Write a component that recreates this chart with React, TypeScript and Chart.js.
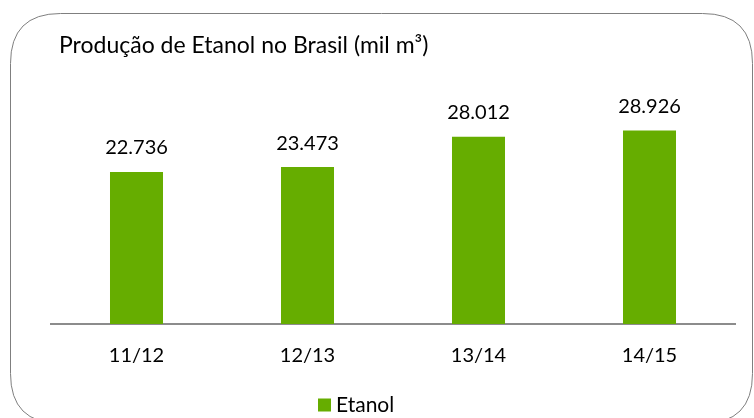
import React, { useEffect, useRef } from "react";
import { Chart, registerables } from "chart.js";

Chart.register(...registerables);

const categories = ["11/12", "12/13", "13/14", "14/15"];
const etanol = [22736, 23473, 28012, 28926];
const valueLabels = ["22.736", "23.473", "28.012", "28.926"];
const seriesName = "Etanol";
const title = "Produção de Etanol no Brasil (mil m³)";

const GREEN = "#66ad00";
const FONT = "Lato, 'Open Sans', sans-serif";

const decorPlugin = {
  id: "decor",
  beforeDraw(chart: any) {
    const ctx = chart.ctx;
    ctx.save();
    ctx.fillStyle = "#ffffff";
    ctx.fillRect(0, 0, chart.width, chart.height);
    // rounded frame
    const x = 10.5, y = 13.5, w = 742, h = 410, r = 50;
    ctx.beginPath();
    ctx.moveTo(x + r, y);
    ctx.lineTo(x + w - r, y);
    ctx.quadraticCurveTo(x + w, y, x + w, y + r);
    ctx.lineTo(x + w, y + h - r);
    ctx.quadraticCurveTo(x + w, y + h, x + w - r, y + h);
    ctx.lineTo(x + r, y + h);
    ctx.quadraticCurveTo(x, y + h, x, y + h - r);
    ctx.lineTo(x, y + r);
    ctx.quadraticCurveTo(x, y, x + r, y);
    ctx.closePath();
    ctx.strokeStyle = "#7f7f7f";
    ctx.lineWidth = 1;
    ctx.stroke();
    // title
    ctx.fillStyle = "#000000";
    ctx.font = `23px ${FONT}`;
    ctx.textAlign = "left";
    ctx.textBaseline = "middle";
    ctx.fillText(title, 59, 46);
    ctx.restore();
  },
  afterDatasetsDraw(chart: any) {
    const ctx = chart.ctx;
    ctx.save();
    const meta = chart.getDatasetMeta(0);
    ctx.fillStyle = "#000000";
    ctx.font = `20px ${FONT}`;
    ctx.textAlign = "center";
    ctx.textBaseline = "middle";
    meta.data.forEach((bar: any, i: number) => {
      ctx.fillText(valueLabels[i], bar.x, bar.y - 24);
    });
    // legend
    const legendY = 405;
    ctx.fillStyle = GREEN;
    ctx.fillRect(318, legendY - 6.5, 13, 13);
    ctx.fillStyle = "#000000";
    ctx.font = `21px ${FONT}`;
    ctx.textAlign = "left";
    ctx.fillText(seriesName, 336, legendY);
    ctx.restore();
  },
};

export default function App() {
  const ref = useRef<HTMLCanvasElement | null>(null);
  useEffect(() => {
    if (!ref.current) return;
    const chart = new Chart(ref.current, {
      type: "bar",
      data: {
        labels: categories,
        datasets: [
          {
            label: seriesName,
            data: etanol,
            backgroundColor: GREEN,
            categoryPercentage: 1,
            barPercentage: 0.31,
          },
        ],
      },
      options: {
        animation: false,
        responsive: false,
        layout: { padding: { left: 51, right: 19, top: 90, bottom: 0 } },
        plugins: {
          legend: { display: false },
          title: { display: false },
          tooltip: { enabled: false },
        },
        scales: {
          x: {
            grid: { display: false, drawTicks: false },
            border: { display: true, color: "#8c8c8c", width: 2 },
            ticks: {
              color: "#000000",
              padding: 20,
              font: { family: FONT, size: 20 },
            },
            afterFit(scale: any) {
              scale.height = 94;
            },
          },
          y: {
            display: false,
            min: 0,
            max: 35000,
          },
        },
      },
      plugins: [decorPlugin],
    });
    return () => chart.destroy();
  }, []);
  return (
    <div style={{ position: "fixed", left: 0, top: 0, width: 754, height: 418 }}>
      <canvas ref={ref} width={754} height={418} style={{ width: 754, height: 418 }} />
    </div>
  );
}
